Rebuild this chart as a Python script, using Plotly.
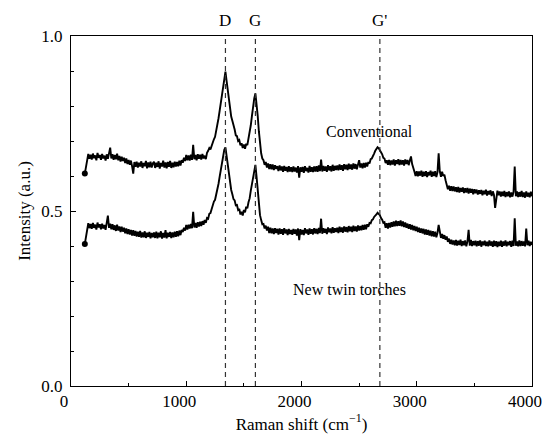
import plotly.graph_objects as go

# Raman spectra, sampled every 10 cm-1 from 120 to 4000 cm-1
shift_start = 120
shift_step = 10

conventional = [
    0.607, 0.628, 0.646, 0.663, 0.649, 0.661, 0.647, 0.664, 0.651, 0.659, 0.645, 0.666, 0.652, 0.660, 0.646, 0.663, 0.650, 0.658, 0.644, 0.662,
    0.649, 0.663, 0.681, 0.650, 0.662, 0.646, 0.660, 0.648, 0.664, 0.645, 0.657, 0.641, 0.655, 0.643, 0.652, 0.637, 0.650, 0.634, 0.646, 0.632,
    0.644, 0.628, 0.607, 0.640, 0.626, 0.641, 0.624, 0.638, 0.627, 0.642, 0.623, 0.637, 0.628, 0.643, 0.622, 0.639, 0.625, 0.641, 0.624, 0.636,
    0.641, 0.623, 0.638, 0.626, 0.642, 0.621, 0.637, 0.627, 0.644, 0.624, 0.639, 0.622, 0.640, 0.626, 0.643, 0.623, 0.638, 0.625, 0.641, 0.627,
    0.640, 0.628, 0.644, 0.630, 0.645, 0.638, 0.652, 0.643, 0.660, 0.645, 0.659, 0.644, 0.661, 0.646, 0.689, 0.648, 0.660, 0.645, 0.662, 0.649,
    0.661, 0.647, 0.663, 0.650, 0.658, 0.648, 0.666, 0.672, 0.680, 0.676, 0.688, 0.692, 0.705, 0.712, 0.728, 0.742, 0.765, 0.787, 0.812, 0.838,
    0.860, 0.880, 0.898, 0.872, 0.846, 0.815, 0.792, 0.770, 0.758, 0.740, 0.733, 0.716, 0.714, 0.700, 0.703, 0.688, 0.694, 0.680, 0.690, 0.678,
    0.692, 0.688, 0.704, 0.722, 0.745, 0.772, 0.800, 0.822, 0.836, 0.808, 0.772, 0.728, 0.688, 0.665, 0.650, 0.645, 0.632, 0.640, 0.624, 0.636,
    0.620, 0.634, 0.619, 0.633, 0.617, 0.631, 0.620, 0.628, 0.614, 0.630, 0.616, 0.627, 0.612, 0.629, 0.615, 0.626, 0.611, 0.628, 0.613, 0.625,
    0.611, 0.627, 0.613, 0.624, 0.610, 0.628, 0.595, 0.625, 0.612, 0.626, 0.609, 0.628, 0.614, 0.623, 0.610, 0.629, 0.612, 0.625, 0.611, 0.627,
    0.613, 0.628, 0.612, 0.630, 0.614, 0.647, 0.613, 0.629, 0.615, 0.627, 0.612, 0.631, 0.616, 0.628, 0.613, 0.632, 0.615, 0.629, 0.617, 0.630,
    0.616, 0.633, 0.618, 0.631, 0.615, 0.634, 0.619, 0.632, 0.617, 0.635, 0.620, 0.633, 0.618, 0.636, 0.621, 0.634, 0.619, 0.637, 0.645, 0.624,
    0.636, 0.622, 0.637, 0.624, 0.638, 0.627, 0.640, 0.636, 0.648, 0.650, 0.660, 0.664, 0.672, 0.676, 0.682, 0.679, 0.675, 0.668, 0.662, 0.652,
    0.650, 0.637, 0.645, 0.632, 0.646, 0.631, 0.644, 0.633, 0.647, 0.630, 0.645, 0.634, 0.648, 0.631, 0.646, 0.633, 0.645, 0.630, 0.647, 0.634,
    0.646, 0.631, 0.644, 0.656, 0.634, 0.625, 0.612, 0.600, 0.614, 0.599, 0.613, 0.601, 0.615, 0.598, 0.612, 0.600, 0.614, 0.597, 0.611, 0.602,
    0.615, 0.598, 0.612, 0.600, 0.614, 0.597, 0.611, 0.665, 0.613, 0.598, 0.612, 0.600, 0.604, 0.588, 0.578, 0.562, 0.572, 0.558, 0.571, 0.557,
    0.570, 0.556, 0.568, 0.554, 0.569, 0.553, 0.566, 0.555, 0.567, 0.551, 0.565, 0.553, 0.566, 0.550, 0.564, 0.552, 0.563, 0.548, 0.562, 0.551,
    0.561, 0.547, 0.559, 0.549, 0.560, 0.545, 0.558, 0.548, 0.561, 0.544, 0.557, 0.547, 0.559, 0.543, 0.556, 0.546, 0.509, 0.544, 0.558, 0.545,
    0.556, 0.541, 0.555, 0.543, 0.557, 0.540, 0.554, 0.542, 0.556, 0.539, 0.553, 0.541, 0.555, 0.627, 0.542, 0.556, 0.540, 0.554, 0.541, 0.557,
    0.540, 0.553, 0.538, 0.556, 0.541, 0.552, 0.539, 0.555, 0.542,
]

twin_torches = [
    0.406, 0.428, 0.448, 0.465, 0.451, 0.463, 0.449, 0.466, 0.452, 0.461, 0.447, 0.467, 0.453, 0.462, 0.448, 0.464, 0.450, 0.460, 0.446, 0.463,
    0.487, 0.452, 0.464, 0.448, 0.462, 0.446, 0.459, 0.443, 0.461, 0.444, 0.456, 0.440, 0.455, 0.441, 0.452, 0.436, 0.450, 0.434, 0.448, 0.433,
    0.446, 0.430, 0.445, 0.429, 0.443, 0.427, 0.441, 0.426, 0.443, 0.424, 0.439, 0.425, 0.442, 0.423, 0.438, 0.426, 0.440, 0.422, 0.437, 0.425,
    0.439, 0.423, 0.441, 0.422, 0.438, 0.425, 0.442, 0.421, 0.437, 0.424, 0.445, 0.422, 0.438, 0.426, 0.440, 0.423, 0.439, 0.425, 0.441, 0.426,
    0.442, 0.428, 0.444, 0.431, 0.446, 0.440, 0.452, 0.444, 0.460, 0.447, 0.461, 0.450, 0.463, 0.451, 0.498, 0.453, 0.466, 0.452, 0.468, 0.456,
    0.469, 0.457, 0.471, 0.461, 0.474, 0.466, 0.480, 0.478, 0.492, 0.494, 0.506, 0.512, 0.527, 0.532, 0.545, 0.560, 0.578, 0.598, 0.620, 0.645,
    0.662, 0.675, 0.682, 0.655, 0.625, 0.597, 0.580, 0.560, 0.548, 0.534, 0.530, 0.516, 0.517, 0.503, 0.506, 0.490, 0.498, 0.487, 0.503, 0.496,
    0.512, 0.508, 0.525, 0.536, 0.558, 0.576, 0.600, 0.620, 0.632, 0.598, 0.560, 0.520, 0.488, 0.474, 0.462, 0.463, 0.450, 0.458, 0.444, 0.455,
    0.437, 0.452, 0.436, 0.450, 0.434, 0.451, 0.437, 0.449, 0.433, 0.450, 0.435, 0.448, 0.432, 0.451, 0.436, 0.447, 0.431, 0.449, 0.434, 0.446,
    0.432, 0.449, 0.435, 0.447, 0.430, 0.450, 0.417, 0.448, 0.433, 0.446, 0.431, 0.451, 0.436, 0.447, 0.432, 0.450, 0.435, 0.448, 0.433, 0.451,
    0.436, 0.449, 0.434, 0.452, 0.437, 0.478, 0.435, 0.451, 0.438, 0.449, 0.434, 0.453, 0.439, 0.450, 0.436, 0.454, 0.438, 0.451, 0.440, 0.452,
    0.437, 0.455, 0.440, 0.453, 0.438, 0.456, 0.441, 0.454, 0.439, 0.457, 0.442, 0.455, 0.440, 0.458, 0.443, 0.456, 0.441, 0.459, 0.444, 0.457,
    0.445, 0.460, 0.446, 0.461, 0.448, 0.462, 0.455, 0.466, 0.465, 0.474, 0.476, 0.483, 0.486, 0.490, 0.495, 0.491, 0.488, 0.480, 0.475, 0.466,
    0.468, 0.452, 0.465, 0.450, 0.466, 0.453, 0.468, 0.455, 0.470, 0.456, 0.472, 0.457, 0.471, 0.458, 0.473, 0.456, 0.470, 0.454, 0.467, 0.452,
    0.464, 0.449, 0.462, 0.447, 0.460, 0.445, 0.457, 0.443, 0.455, 0.440, 0.452, 0.438, 0.450, 0.436, 0.449, 0.433, 0.447, 0.432, 0.446, 0.430,
    0.444, 0.428, 0.442, 0.427, 0.441, 0.425, 0.438, 0.460, 0.436, 0.423, 0.434, 0.421, 0.431, 0.418, 0.427, 0.412, 0.421, 0.406, 0.418, 0.404,
    0.416, 0.402, 0.417, 0.401, 0.415, 0.403, 0.418, 0.400, 0.414, 0.402, 0.416, 0.399, 0.413, 0.446, 0.401, 0.417, 0.400, 0.414, 0.402, 0.415,
    0.399, 0.414, 0.401, 0.416, 0.398, 0.413, 0.402, 0.415, 0.400, 0.412, 0.399, 0.416, 0.401, 0.413, 0.398, 0.415, 0.400, 0.414, 0.397, 0.412,
    0.400, 0.415, 0.398, 0.413, 0.401, 0.416, 0.399, 0.412, 0.402, 0.414, 0.398, 0.415, 0.400, 0.479, 0.401, 0.413, 0.399, 0.416, 0.400, 0.414,
    0.401, 0.413, 0.399, 0.450, 0.402, 0.415, 0.400, 0.412, 0.403,
]

# band positions marked by dashed lines
band_names = ["D", "G", "G'"]
band_positions = [1340, 1600, 2680]

# curve labels
curve_labels = ["Conventional", "New twin torches"]
label_x = [2590, 2420]
label_y = [0.726, 0.277]

x_ticks = [0, 1000, 2000, 3000, 4000]
y_ticks = [0.0, 0.5, 1.0]

font_family = "Liberation Serif"

fig = go.Figure()

for series in [conventional, twin_torches]:
    fig.add_trace(go.Scatter(
        x0=shift_start, dx=shift_step, y=series,
        mode='lines',
        line=dict(color='black', width=1.9),
        showlegend=False
    ))
    # starting dot of each spectrum
    fig.add_trace(go.Scatter(
        x=[shift_start], y=[series[0]],
        mode='markers',
        marker=dict(color='black', size=6),
        showlegend=False
    ))

for name, pos in zip(band_names, band_positions):
    fig.add_shape(
        type='line', xref='x', yref='paper',
        x0=pos, x1=pos, y0=0, y1=1,
        line=dict(color='#333333', width=1.2, dash='5px,4px')
    )
    fig.add_annotation(
        x=pos, y=1, xref='x', yref='paper',
        text=name, showarrow=False, yanchor='bottom', yshift=4,
        font=dict(family=font_family, size=17, color='black')
    )

for text, lx, ly in zip(curve_labels, label_x, label_y):
    fig.add_annotation(
        x=lx, y=ly, text=text, showarrow=False,
        font=dict(family=font_family, size=16, color='black')
    )

axis_style = dict(
    showline=True, linecolor='black', linewidth=1, mirror=True,
    showgrid=False, zeroline=False, automargin=False,
    ticks='inside', ticklen=5, tickcolor='black',
    tickfont=dict(family=font_family, size=17, color='black'),
)

fig.update_xaxes(
    range=[0, 4000], tickmode='array', tickvals=x_ticks,
    ticklabelshift=-7, ticklabeloverflow='allow',
    minor=dict(dtick=500, tick0=0, ticks='inside', ticklen=3, tickcolor='black'),
    title=dict(text="Raman shift (cm<sup>\u22121</sup>)",
               font=dict(family=font_family, size=17, color='black'),
               standoff=6),
    **axis_style
)
fig.update_yaxes(
    range=[0, 1], tickmode='array', tickvals=y_ticks, tickformat='.1f',
    minor=dict(dtick=0.1, tick0=0, ticks='inside', ticklen=3, tickcolor='black'),
    ticklabelstandoff=4,
    title=dict(text="Intensity (a.u.)",
               font=dict(family=font_family, size=17, color='black'),
               standoff=6),
    **axis_style
)

fig.update_layout(
    width=544, height=442,
    margin=dict(l=71, r=12, t=36, b=56),
    plot_bgcolor='white', paper_bgcolor='white',
    font=dict(family=font_family, color='black'),
)

fig.write_html("out.html", config={'displayModeBar': False},
               post_script="document.body.style.margin='0';")
